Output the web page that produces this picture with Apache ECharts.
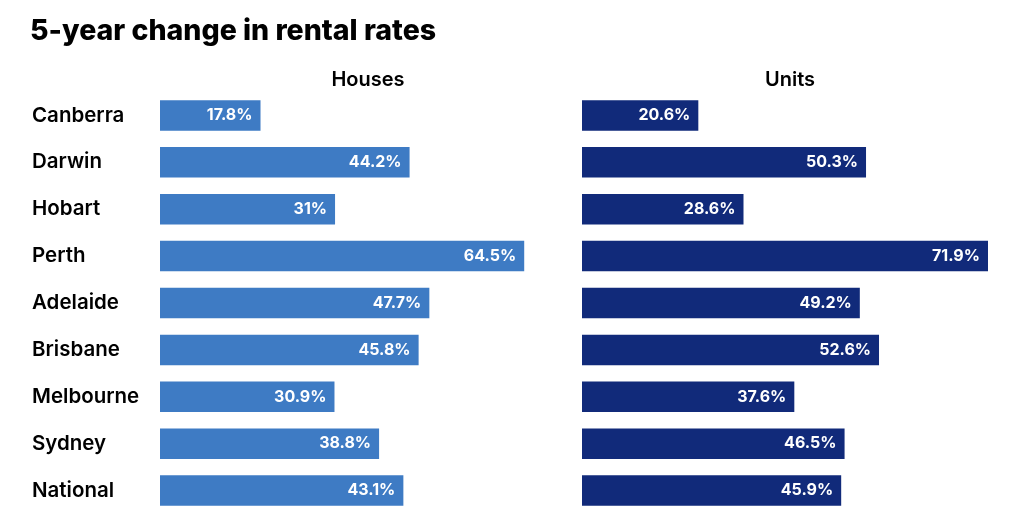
<!DOCTYPE html>
<html><head><meta charset="utf-8">
<script src="https://cdn.jsdelivr.net/npm/echarts@6/dist/echarts.min.js"></script>
<style>html,body{margin:0;padding:0;background:#fff}#c{width:1024px;height:528px}</style>
</head><body><div id="c"></div>
<script>
const cities = ["Canberra","Darwin","Hobart","Perth","Adelaide","Brisbane","Melbourne","Sydney","National"];
const houses = [17.8,44.2,31,64.5,47.7,45.8,30.9,38.8,43.1];
const units = [20.6,50.3,28.6,71.9,49.2,52.6,37.6,46.5,45.9];
const FONT = "Inter";
const chart = echarts.init(document.getElementById('c'));
const lbl = {show:true, position:'insideRight', distance:8, color:'#fff', fontFamily:FONT, fontWeight:'bold', fontSize:16, formatter:p=>p.value+'%'};
chart.setOption({
  animation:false,
  title:[
    {text:'5-year change in rental rates', left:30, top:17, padding:0, textStyle:{fontFamily:FONT, fontWeight:800, fontSize:28.5, color:'#000'}},
    {text:'Houses', left:363, top:65, textAlign:'center', textStyle:{fontFamily:FONT, fontWeight:600, fontSize:20, color:'#000'}},
    {text:'Units', left:785, top:65, textAlign:'center', textStyle:{fontFamily:FONT, fontWeight:600, fontSize:20, color:'#000'}}
  ],
  grid:[
    {left:160, width:406, top:92, bottom:14},
    {left:582, width:406, top:92, bottom:14}
  ],
  xAxis:[
    {gridIndex:0, type:'value', min:0, max:71.9, show:false},
    {gridIndex:1, type:'value', min:0, max:71.9, show:false}
  ],
  yAxis:[
    {gridIndex:0, type:'category', data:cities, inverse:true, axisLine:{show:false}, axisTick:{show:false},
     axisLabel:{align:'left', margin:128, color:'#000', fontFamily:FONT, fontWeight:600, fontSize:20.5}},
    {gridIndex:1, type:'category', data:cities, inverse:true, show:false}
  ],
  series:[
    {type:'bar', xAxisIndex:0, yAxisIndex:0, data:houses, barWidth:'65%', itemStyle:{color:'#3e7bc4'}, label:lbl},
    {type:'bar', xAxisIndex:1, yAxisIndex:1, data:units, barWidth:'65%', itemStyle:{color:'#112a7a'}, label:lbl}
  ]
});
</script></body></html>
